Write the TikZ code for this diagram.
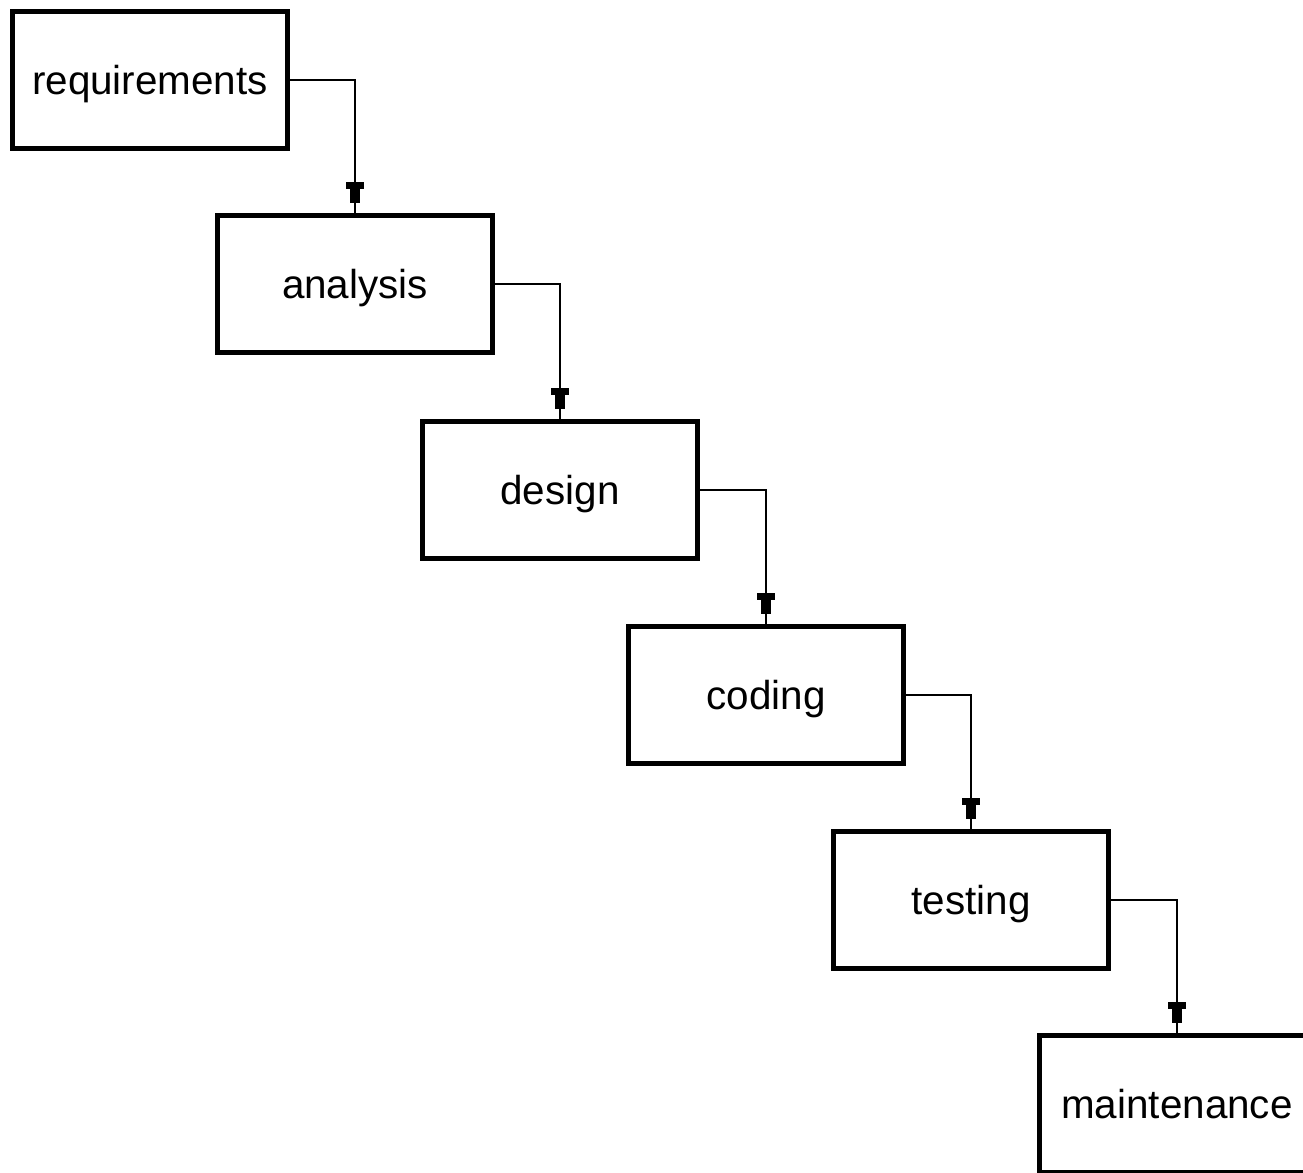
\documentclass[tikz,border=0pt]{standalone}
\usepackage{fontspec}
\setmainfont{Liberation Sans}
\usetikzlibrary{arrows.meta, positioning, decorations.markings}

\begin{document}
\begin{tikzpicture}[x=0.02cm, y=-0.02cm,
    stage/.style={draw, line width=2.8pt, minimum width=5.5cm, minimum height=2.74cm,
        inner sep=0pt, text height=17pt, text depth=0pt, font=\fontsize{23}{27}\selectfont},
    flow/.style={line width=1.5pt, postaction={decorate},
        decoration={markings, mark=at position -0.21cm with
            {\arrow{Rectangle[length=4pt,width=10.2pt] Rectangle[length=7.9pt,width=5.7pt]}}}}
]
    % Frame
    \fill[white] (0,0) rectangle (1303,1173);
    \clip (0,0) rectangle (1303,1173);

    % Stages
    \node[stage] (req) at (150,80) {requirements};
    \node[stage] (ana) at (355,284) {analysis};
    \node[stage] (des) at (560,490) {design};
    \node[stage] (cod) at (766,695) {coding};
    \node[stage] (tst) at (971,900) {testing};
    \node[stage] (mnt) at (1177,1104) {maintenance};

    % Flow between stages
    \foreach \a/\b in {req/ana, ana/des, des/cod, cod/tst, tst/mnt}
        \draw[flow] (\a.east) -| (\b.north);
\end{tikzpicture}
\end{document}
